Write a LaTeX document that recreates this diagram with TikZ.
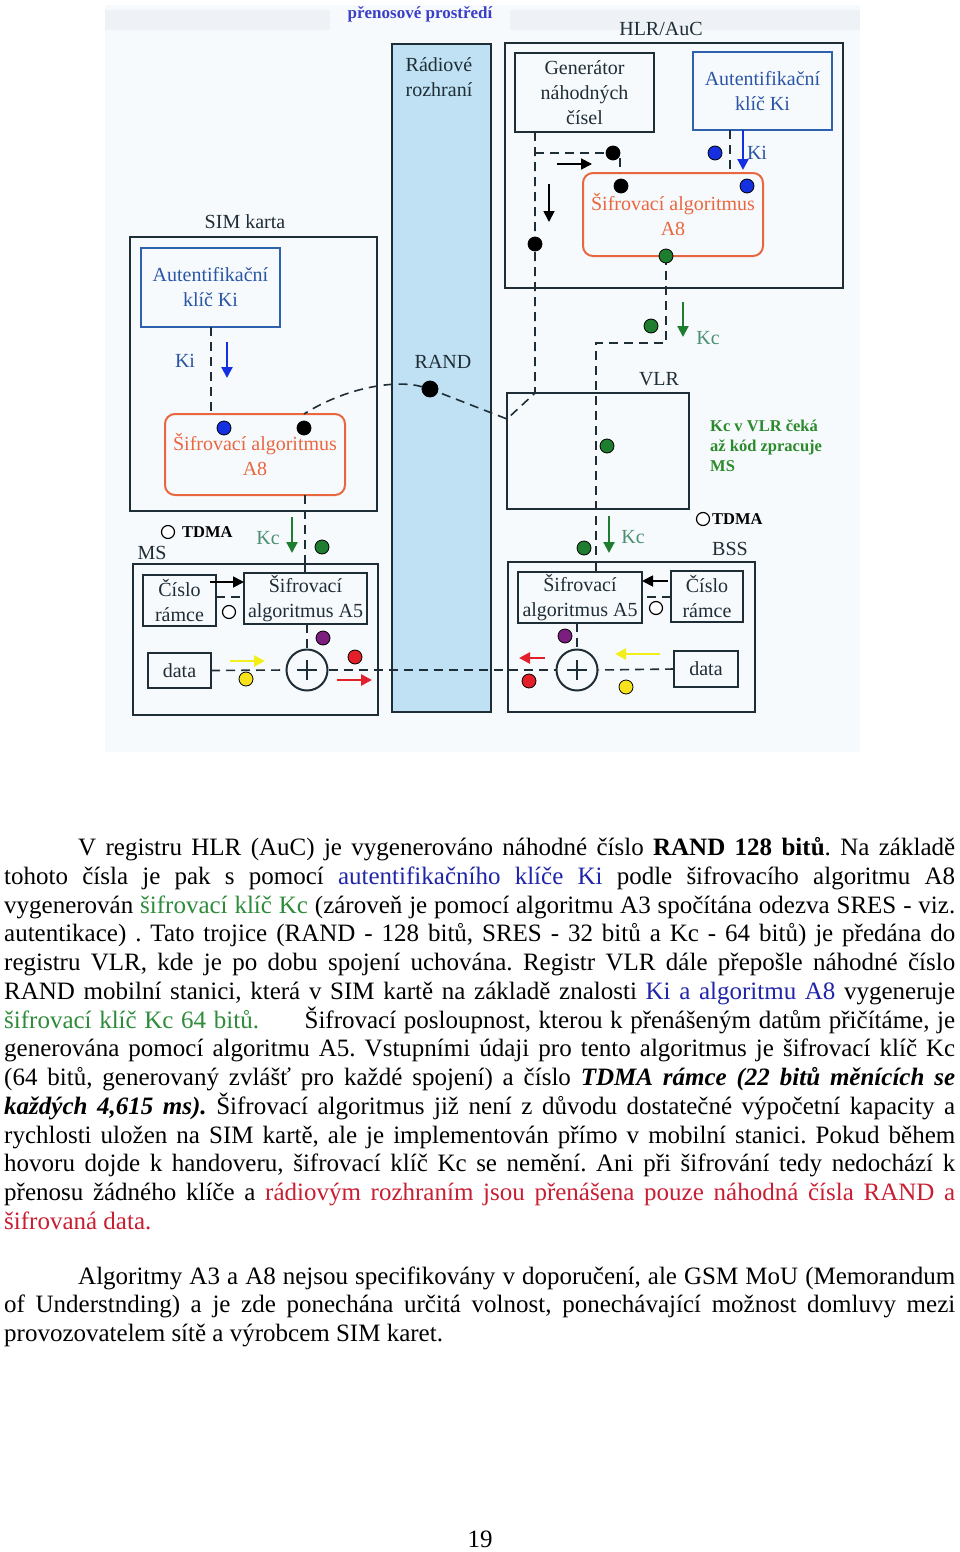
\documentclass[tikz,border=0pt]{standalone}
\usepackage{fontspec}
\setmainfont{Liberation Serif}
\usetikzlibrary{arrows.meta}
\frenchspacing
\definecolor{dk}{HTML}{1F2D36}
\definecolor{bgc}{HTML}{F7FAFD}
\definecolor{bar}{HTML}{EEF2F7}
\definecolor{radio}{HTML}{BFE1F3}
\definecolor{bluebox}{HTML}{2F62AE}
\definecolor{bluetxt}{HTML}{2A55A5}
\definecolor{orng}{HTML}{E8673F}
\definecolor{kiblue}{HTML}{1530E0}
\definecolor{grn}{HTML}{1E7D2E}
\definecolor{kctxt}{HTML}{4A9070}
\definecolor{notegrn}{HTML}{2B8A2B}
\definecolor{redd}{HTML}{E3202A}
\definecolor{yel}{HTML}{F7E21E}
\definecolor{yelarr}{HTML}{F2EE1A}
\definecolor{purp}{HTML}{7B1E7E}
\definecolor{titleblue}{HTML}{3B3FC8}
\definecolor{pblue}{HTML}{2024A8}
\definecolor{pgreen}{HTML}{2E8B3A}
\definecolor{pred}{HTML}{C81E32}
\newcommand{\lblfont}{\fontsize{20}{25}\selectfont}
\newcommand{\parfont}{\fontsize{25}{29}\selectfont\frenchspacing}
\newcommand{\smallbold}{\fontsize{16.5}{20}\selectfont\bfseries}
\begin{document}
\begin{tikzpicture}[x=1pt,y=-1pt,
  box/.style={draw=dk, line width=2pt, inner sep=0pt, outer sep=0pt, align=center, font=\lblfont, text=dk},
  bbox/.style={box, draw=bluebox, text=bluetxt},
  rbox/.style={box, draw=orng, text=orng, rounded corners=10pt},
  lbl/.style={font=\lblfont, text=dk, inner sep=0pt, align=center},
  dsh/.style={draw=dk, line width=1.6pt, dash pattern=on 9pt off 6pt},
  sol/.style={draw=dk, line width=1.6pt},
  dot/.style={circle, draw=black, line width=0.8pt, minimum size=14pt, inner sep=0pt, outer sep=0pt},
  odot/.style={circle, draw=black, fill=white, line width=1.2pt, minimum size=13pt, inner sep=0pt},
  arr/.style={line width=2.2pt, -{Triangle[length=11pt,width=11pt]}},
  pline/.style={anchor=base west, inner sep=0pt, font=\parfont}
]
\useasboundingbox (0,0) rectangle (960,1552);
% scanned background
\fill[bgc] (105,5) rectangle (860,752);
\fill[bar] (105,10) rectangle (330,30);
\fill[bar] (510,10) rectangle (860,30);

\node[inner sep=0pt, font=\fontsize{17}{20}\selectfont\bfseries, text=titleblue] (title) at (420,14) {přenosové prostředí};

% radio interface
\node[box, fill=radio, minimum width=99pt, minimum height=668pt] (radio) at (441.5,378) {};
\node[lbl] (radiot) at (439,77) {Rádiové\\rozhraní};

% HLR/AuC
\node[box, minimum width=338pt, minimum height=245pt] (hlr) at (674,165.5) {};
\node[lbl] (hlrt) at (661,29) {HLR/AuC};
\node[box, minimum width=139pt, minimum height=79pt] (gen) at (584.5,92.5) {Generátor\\náhodných\\čísel};
\node[bbox, minimum width=139pt, minimum height=78pt] (hki) at (762.5,91) {Autentifikační\\klíč Ki};
\node[rbox, minimum width=180pt, minimum height=83pt] (ha8) at (673,214.5) {Šifrovací algoritmus\\A8};

% SIM
\node[box, minimum width=247pt, minimum height=274pt] (sim) at (253.5,374) {};
\node[lbl] (simt) at (245,222) {SIM karta};
\node[bbox, minimum width=139pt, minimum height=79pt] (ski) at (210.5,287.5) {Autentifikační\\klíč Ki};
\node[rbox, minimum width=180pt, minimum height=81pt] (sa8) at (255,454.5) {Šifrovací algoritmus\\A8};

% VLR
\node[box, minimum width=182pt, minimum height=116pt] (vlr) at (598,451) {};
\node[lbl] (vlrt) at (659,379) {VLR};
\node[anchor=west, inner sep=0pt, align=left, font=\smallbold, text=notegrn] (note) at (710,446) {Kc v VLR čeká\\až kód zpracuje\\MS};

% MS
\node[box, minimum width=245pt, minimum height=151pt] (ms) at (255.5,639.5) {};
\node[lbl] (mst) at (152,553) {MS};
\node[box, minimum width=73pt, minimum height=51pt] (mcis) at (179.5,600.5) {Číslo\\rámce};
\node[box, minimum width=123pt, minimum height=51pt] (ma5) at (305.5,598.5) {Šifrovací\\algoritmus A5};
\node[box, minimum width=63pt, minimum height=35pt] (mdata) at (179.5,670.5) {data};
\node[circle, draw=dk, line width=2pt, minimum size=41pt, inner sep=0pt] (mplus) at (307,670) {};

% BSS
\node[box, minimum width=247pt, minimum height=150pt] (bss) at (631.5,637) {};
\node[lbl] (bsst) at (730,549) {BSS};
\node[box, minimum width=124pt, minimum height=51pt] (ba5) at (580,597.5) {Šifrovací\\algoritmus A5};
\node[box, minimum width=72pt, minimum height=51pt] (bcis) at (707,596.5) {Číslo\\rámce};
\node[box, minimum width=64pt, minimum height=36pt] (bdata) at (706,669) {data};
\node[circle, draw=dk, line width=2pt, minimum size=41pt, inner sep=0pt] (bplus) at (577,670) {};

% plus signs
\foreach \p in {mplus,bplus}{
  \draw[dk, line width=1.6pt] ([xshift=-10pt]\p.center) -- ([xshift=10pt]\p.center);
  \draw[dk, line width=1.6pt] ([yshift=-10pt]\p.center) -- ([yshift=10pt]\p.center);
}

% named points
\coordinate (vk) at (507,419);
\coordinate (c1) at (666,343);
\coordinate (c2) at (596,343);
\node[dot, fill=black, minimum size=16pt] (rand) at (430,389) {};

% dashed connectors
\draw[dsh] (535,0 |- gen.south) -- (535,0 |- vlr.north) -- (vk) -- (rand) .. controls (395,379) and (345,388) .. (304,0 |- sa8.north);
\draw[dsh] (535,153) -- (620,153) -- (620,0 |- ha8.north);
\draw[dsh] (730,0 |- hki.south) -- (730,0 |- ha8.north);
\draw[dsh] (666,0 |- ha8.south) -- (c1) -- (c2) -- (596,0 |- bss.north);
\draw[sol] (596,0 |- bss.north) -- (596,0 |- ba5.north);
\draw[dsh] (211,0 |- ski.south) -- (211,0 |- sa8.north);
\draw[dsh] (305,0 |- sa8.south) -- (305,0 |- ms.north);
\draw[sol] (305,0 |- ms.north) -- (305,0 |- ma5.north);
\draw[dsh] (mcis.east |- 0,597) -- (ma5.west |- 0,597);
\draw[dsh] (bcis.west |- 0,597) -- (ba5.east |- 0,597);
\draw[dsh] (ma5.south -| mplus) -- (mplus.north);
\draw[dsh] (ba5.south -| bplus) -- (bplus.north);
\draw[dsh] (mdata.east) -- (mplus.west);
\draw[dsh] (bdata.west) -- (bplus.east);
\draw[dsh] (mplus.east) -- (bplus.west);

% dots
\node[dot, fill=black] (hb1) at (613,153) {};
\node[dot, fill=black] (hb2) at (621,186) {};
\node[dot, fill=kiblue] (hu1) at (715,153) {};
\node[dot, fill=kiblue] (hu2) at (747,186) {};
\node[dot, fill=black] (hb3) at (535,244) {};
\node[dot, fill=grn] (hg) at (666,256) {};
\node[dot, fill=grn] (vg1) at (651,326) {};
\node[dot, fill=grn] (vg2) at (607,446) {};
\node[dot, fill=kiblue] (su) at (224,428) {};
\node[dot, fill=black] (sb) at (304,428) {};
\node[dot, fill=grn] (mg) at (322,547) {};
\node[dot, fill=purp] (mp) at (323,638) {};
\node[dot, fill=yel] (my) at (246,679) {};
\node[dot, fill=redd] (mr) at (355,657) {};
\node[odot] (mo) at (229,612) {};
\node[dot, fill=grn] (bg) at (584,548) {};
\node[dot, fill=purp] (bp) at (565,636) {};
\node[dot, fill=yel] (by) at (626,687) {};
\node[dot, fill=redd] (br) at (529,681) {};
\node[odot] (bo) at (656,608) {};

% TDMA
\node[odot] (mtc) at (168,532) {};
\node[anchor=west, inner sep=0pt, font=\smallbold, text=black] (mtdma) at (182,532) {TDMA};
\node[odot] (btc) at (703,519) {};
\node[anchor=west, inner sep=0pt, font=\smallbold, text=black] (btdma) at (712,519) {TDMA};

% arrows
\draw[arr, black, line width=1.8pt] (557,164) -- (592,164);
\draw[arr, black, line width=1.8pt] (549,184) -- (549,222);
\draw[arr, kiblue] (743,0 |- hki.south) -- (743,170);
\draw[arr, kiblue] (227,342) -- (227,378);
\draw[arr, grn] (683,302) -- (683,337);
\draw[arr, grn] (292,517) -- (292,553);
\draw[arr, grn] (609,516) -- (609,553);
\draw[arr, black, line width=1.8pt] (210,582) -- (ma5.west |- 0,582);
\draw[arr, black, line width=1.8pt] (668,581) -- (ba5.east |- 0,581);
\draw[arr, yelarr, line width=2.6pt] (230,661) -- (265,661);
\draw[arr, redd, line width=2.6pt] (337,680) -- (372,680);
\draw[arr, yelarr, line width=2.6pt] (660,654) -- (615,654);
\draw[arr, redd, line width=2.6pt] (545,658) -- (519,658);

% key labels
\node[lbl, text=bluetxt] (lki1) at (757,153) {Ki};
\node[lbl, text=bluetxt] (lki2) at (185,361) {Ki};
\node[lbl, text=kctxt] (lkc1) at (708,338) {Kc};
\node[lbl, text=kctxt] (lkc2) at (268,538) {Kc};
\node[lbl, text=kctxt] (lkc3) at (633,537) {Kc};
\node[lbl] (randt) at (443,362) {RAND};

% body text
\node[pline] (l1) at (78,855.5) {\makebox[877pt][s]{V registru HLR (AuC) je vygenerováno náhodné číslo \textbf{RAND 128 bitů}. Na základě}};
\node[pline] (l2) at (4,884.25) {\makebox[951pt][s]{tohoto čísla je pak s pomocí \textcolor{pblue}{autentifikačního klíče Ki} podle šifrovacího algoritmu A8}};
\node[pline] (l3) at (4,913) {\makebox[951pt][s]{vygenerován \textcolor{pgreen}{šifrovací klíč Kc} (zároveň je pomocí algoritmu A3 spočítána odezva SRES - viz.}};
\node[pline] (l4) at (4,941.75) {\makebox[951pt][s]{autentikace) . Tato trojice (RAND - 128 bitů, SRES - 32 bitů a Kc - 64 bitů) je předána do}};
\node[pline] (l5) at (4,970.5) {\makebox[951pt][s]{registru VLR, kde je po dobu spojení uchována. Registr VLR dále přepošle náhodné číslo}};
\node[pline] (l6) at (4,999.25) {\makebox[951pt][s]{RAND mobilní stanici, která v SIM kartě na základě znalosti \textcolor{pblue}{Ki a algoritmu A8} vygeneruje}};
\node[pline] (l7) at (4,1028) {\makebox[951pt][s]{\textcolor{pgreen}{šifrovací klíč Kc 64 bitů.}\hspace{38pt} Šifrovací posloupnost, kterou k přenášeným datům přičítáme, je}};
\node[pline] (l8) at (4,1056.75) {\makebox[951pt][s]{generována pomocí algoritmu A5. Vstupními údaji pro tento algoritmus je šifrovací klíč Kc}};
\node[pline] (l9) at (4,1085.5) {\makebox[951pt][s]{(64 bitů, generovaný zvlášť pro každé spojení) a číslo \textbf{\textit{TDMA rámce (22 bitů měnících se}}}};
\node[pline] (l10) at (4,1114.25) {\makebox[951pt][s]{\textbf{\textit{každých 4,615 ms).}} Šifrovací algoritmus již není z důvodu dostatečné výpočetní kapacity a}};
\node[pline] (l11) at (4,1143) {\makebox[951pt][s]{rychlosti uložen na SIM kartě, ale je implementován přímo v mobilní stanici. Pokud během}};
\node[pline] (l12) at (4,1171.75) {\makebox[951pt][s]{hovoru dojde k handoveru, šifrovací klíč Kc se nemění. Ani při šifrování tedy nedochází k}};
\node[pline] (l13) at (4,1200.5) {\makebox[951pt][s]{přenosu žádného klíče a \textcolor{pred}{rádiovým rozhraním jsou přenášena pouze náhodná čísla RAND a}}};
\node[pline, text=pred] (l14) at (4,1229.25) {šifrovaná data.};

\node[pline] (m1) at (78,1284) {\makebox[877pt][s]{Algoritmy A3 a A8 nejsou specifikovány v doporučení, ale GSM MoU (Memorandum}};
\node[pline] (m2) at (4,1312.75) {\makebox[951pt][s]{of Understnding) a je zde ponechána určitá volnost, ponechávající možnost domluvy mezi}};
\node[pline] (m3) at (4,1341.5) {provozovatelem sítě a výrobcem SIM karet.};

\node[anchor=base, inner sep=0pt, font=\parfont] (pg) at (480,1547) {19};
\end{tikzpicture}
\end{document}
